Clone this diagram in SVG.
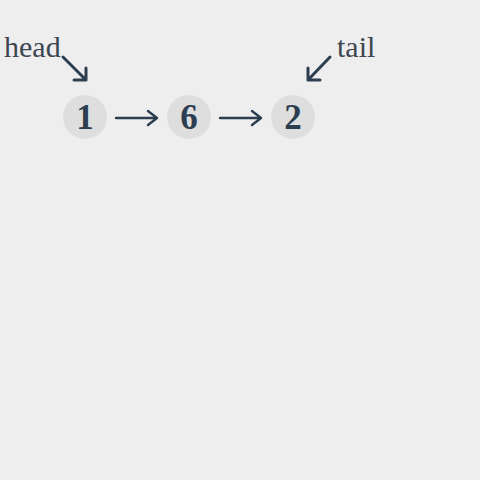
<svg xmlns="http://www.w3.org/2000/svg" width="480" height="480" viewBox="0 0 480 480">
<style>
.lbl{font-family:"Liberation Serif","DejaVu Serif",serif;font-size:30px;fill:#3d4650}
.num{font-family:"Liberation Serif","DejaVu Serif",serif;font-size:35px;font-weight:bold;fill:#2c3e50;text-anchor:middle}
.node circle{fill:#dedede}
.ptr{stroke:#2c3e50;stroke-width:3;fill:none;stroke-linecap:round;stroke-linejoin:round}
.nx{stroke:#2c3e50;stroke-width:2.4;fill:none;stroke-linecap:round;stroke-linejoin:round}
</style>
<rect width="480" height="480" fill="#eeeeee"/>
<text class="lbl" x="4" y="57">head</text>
<text class="lbl" x="337" y="57">tail</text>
<g id="node1" class="node"><circle cx="85" cy="117" r="22"/><text class="num" x="85" y="129">1</text></g>
<g id="node6" class="node"><circle cx="189" cy="117" r="22"/><text class="num" x="189" y="129">6</text></g>
<g id="node2" class="node"><circle cx="293" cy="117" r="22"/><text class="num" x="293" y="129">2</text></g>
<g id="connectors">
<path class="ptr" d="M63 57 L86 80 M74 80 L86 80 L86 68"/>
<path class="ptr" d="M330 57 L308 80 M320 80 L308 80 L308 68"/>
<path class="nx" d="M116 118 L157 118 M148 111 L157 118 L148 125"/>
<path class="nx" d="M220 118 L261 118 M252 111 L261 118 L252 125"/>
</g>
</svg>
